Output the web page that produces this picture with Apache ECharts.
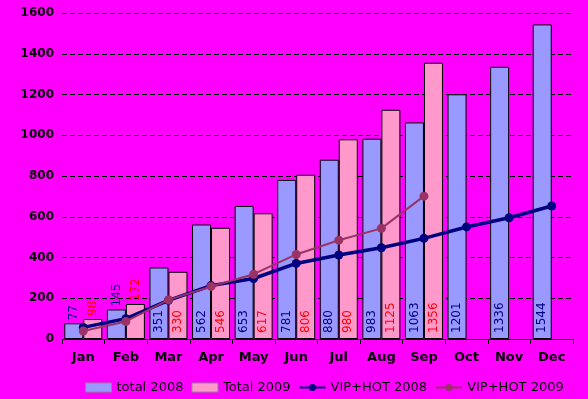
<!DOCTYPE html>
<html>
<head>
<meta charset="utf-8">
<script src="https://cdn.jsdelivr.net/npm/echarts@6/dist/echarts.min.js"></script>
<style>
  html, body { margin: 0; padding: 0; background: #ff00ff; }
  #chart { width: 588px; height: 399px; }
</style>
</head>
<body>
<div id="chart"></div>
<script>
// data
var months = ["Jan", "Feb", "Mar", "Apr", "May", "Jun", "Jul", "Aug", "Sep", "Oct", "Nov", "Dec"];
var total2008 = [77, 145, 351, 562, 653, 781, 880, 983, 1063, 1201, 1336, 1544];
var total2009 = [98, 172, 330, 546, 617, 806, 980, 1125, 1356, null, null, null];
var vip2008 = [57, 100, 190, 262, 297, 371, 412, 448, 494, 550, 595, 653];
var vip2009 = [39, 86, 192, 258, 318, 415, 485, 543, 701, null, null, null];

var font = "DejaVu Sans";

// short bars get their label above the bar, others inside at the bottom
function barData(values, color) {
  return values.map(function (v) {
    if (v == null) return null;
    var small = v < 200;
    return {
      value: v,
      label: {
        show: true,
        rotate: 90,
        position: small ? "top" : "insideBottom",
        distance: small ? 3 : 6,
        align: "left",
        verticalAlign: "middle",
        color: color,
        fontFamily: font,
        fontSize: 12
      }
    };
  });
}

var chart = echarts.init(document.getElementById("chart"));
var option = {
  backgroundColor: "#ff00ff",
  animation: false,
  grid: { left: 62, right: 15, top: 13, bottom: 60 },
  legend: {
    left: 80,
    top: 376,
    itemWidth: 26,
    itemHeight: 9,
    itemGap: 8,
    textStyle: { color: "#000", fontFamily: font, fontSize: 13 },
    data: [
      { name: "total 2008", icon: "rect", itemStyle: { borderColor: "#888", borderWidth: 1 } },
      { name: "Total 2009", icon: "rect", itemStyle: { borderColor: "#888", borderWidth: 1 } },
      "VIP+HOT 2008",
      "VIP+HOT 2009"
    ]
  },
  xAxis: {
    type: "category",
    data: months,
    axisLine: { lineStyle: { color: "#000", width: 1 } },
    axisTick: { show: true, length: 5, lineStyle: { color: "#000" } },
    axisLabel: { color: "#000", fontFamily: font, fontSize: 13, fontWeight: "bold", margin: 12 }
  },
  yAxis: {
    type: "value",
    min: 0,
    max: 1600,
    interval: 200,
    axisLine: { show: false },
    axisTick: { show: false },
    axisLabel: {
      color: "#000", fontFamily: font, fontSize: 12, fontWeight: "bold", margin: 8,
      formatter: function (v) { return String(v); }
    },
    splitLine: { lineStyle: { color: "#000", type: [5, 3], width: 1 } }
  },
  series: [
    {
      name: "total 2008",
      type: "bar",
      barWidth: 19,
      barGap: "0%",
      data: barData(total2008, "#000080"),
      itemStyle: { color: "#9999ff", borderColor: "#000", borderWidth: 1 }
    },
    {
      name: "Total 2009",
      type: "bar",
      barWidth: 19,
      data: barData(total2009, "#ff0000"),
      itemStyle: { color: "#ff99cc", borderColor: "#000", borderWidth: 1 }
    },
    {
      name: "VIP+HOT 2008",
      type: "line",
      data: vip2008,
      symbol: "circle",
      symbolSize: 9,
      z: 5,
      lineStyle: { color: "#000080", width: 3.5 },
      itemStyle: { color: "#000080" }
    },
    {
      name: "VIP+HOT 2009",
      type: "line",
      data: vip2009,
      symbol: "circle",
      symbolSize: 9,
      z: 6,
      lineStyle: { color: "#993366", width: 2 },
      itemStyle: { color: "#993366" }
    }
  ]
};
chart.setOption(option);
</script>
</body>
</html>
